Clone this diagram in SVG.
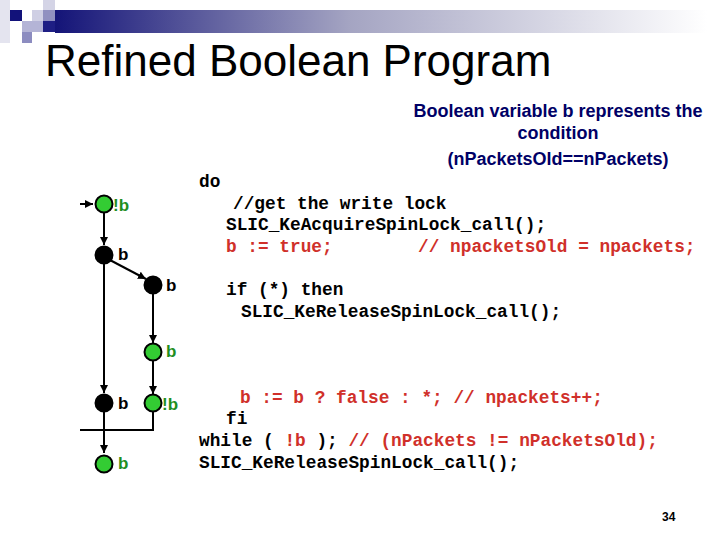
<svg xmlns="http://www.w3.org/2000/svg" width="720" height="540" viewBox="0 0 720 540">
<defs>
<linearGradient id="bar" x1="0" y1="0" x2="1" y2="0">
<stop offset="0" stop-color="#141478"/>
<stop offset="0.45" stop-color="#a4a4c2"/>
<stop offset="1" stop-color="#ffffff"/>
</linearGradient>
<marker id="ah" viewBox="0 0 10 10" refX="10" refY="5" markerWidth="8" markerHeight="8" markerUnits="userSpaceOnUse" orient="auto">
<path d="M0,0 L10,5 L0,10 z" fill="#000"/>
</marker>
<style>
.title{font-family:"Liberation Sans",Arial,sans-serif;font-size:44px;fill:#000}
.note{font-family:"Liberation Sans",Arial,sans-serif;font-size:18px;font-weight:bold;fill:#000066;text-anchor:middle}
.code{font-family:"Liberation Mono","Courier New",monospace;font-size:17.8px;font-weight:bold;fill:#000;white-space:pre}
.red{fill:#d0302a}
.lbl{font-family:"Liberation Sans",Arial,sans-serif;font-size:17px;font-weight:bold}
.lg{fill:#1f8f1f}
.lb{fill:#000}
.ng{fill:#33cc33;stroke:#000;stroke-width:2}
.nb{fill:#000;stroke:#000;stroke-width:2}
.edge{stroke:#000;stroke-width:2;fill:none}
.num{font-family:"Liberation Sans",Arial,sans-serif;font-size:12px;font-weight:bold;fill:#000}
</style>
</defs>
<rect width="720" height="540" fill="#fff"/>
<g id="decoration">
<rect x="0" y="0" width="10" height="43" fill="#e4e4ef"/>
<rect x="10" y="10" width="12" height="11" fill="#12127a"/>
<rect x="32" y="10" width="11" height="11" fill="#cfcfe4"/>
<rect x="43" y="0" width="12" height="10" fill="#d4d4e6"/>
<rect x="43" y="10" width="12" height="11" fill="#9090c0"/>
<rect x="22" y="21" width="21" height="11" fill="#b4b4d6"/>
<rect x="43" y="21" width="12" height="11" fill="#1e1e84"/>
<rect x="22" y="32" width="10" height="11" fill="#8c8cc0"/>
<rect x="55" y="10" width="652" height="23" fill="url(#bar)"/>
</g>
<text class="title" x="45" y="76">Refined Boolean Program</text>
<g id="note">
<text class="note" x="558" y="117">Boolean variable b represents the</text>
<text class="note" x="558" y="139">condition</text>
<text class="note" x="558" y="165">(nPacketsOld==nPackets)</text>
</g>
<g id="connectors">
<line class="edge" x1="80" y1="204" x2="93" y2="204" marker-end="url(#ah)"/>
<line class="edge" x1="104" y1="213" x2="104" y2="245" marker-end="url(#ah)"/>
<line class="edge" x1="108" y1="259" x2="146" y2="279" marker-end="url(#ah)"/>
<line class="edge" x1="104" y1="264" x2="104" y2="393" marker-end="url(#ah)"/>
<line class="edge" x1="153" y1="294" x2="153" y2="343" marker-end="url(#ah)"/>
<line class="edge" x1="153" y1="361" x2="153" y2="394" marker-end="url(#ah)"/>
<polyline class="edge" points="153,412 153,430 80,430"/>
<line class="edge" x1="104" y1="412" x2="104" y2="453" marker-end="url(#ah)"/>
</g>
<g id="n1"><circle class="ng" cx="104" cy="204" r="8.5"/><text class="lbl lg" x="113" y="211">!b</text></g>
<g id="n2"><circle class="nb" cx="104" cy="255" r="8.5"/><text class="lbl lb" x="118" y="260">b</text></g>
<g id="n3"><circle class="nb" cx="153" cy="285" r="8.5"/><text class="lbl lb" x="166" y="291">b</text></g>
<g id="n4"><circle class="ng" cx="153" cy="352" r="8.5"/><text class="lbl lg" x="166" y="357">b</text></g>
<g id="n5"><circle class="ng" cx="153" cy="403" r="8.5"/><text class="lbl lg" x="162" y="410">!b</text></g>
<g id="n6"><circle class="nb" cx="104" cy="403" r="8.5"/><text class="lbl lb" x="118" y="409">b</text></g>
<g id="n7"><circle class="ng" cx="104" cy="464" r="8.5"/><text class="lbl lg" x="118" y="469">b</text></g>
<g id="code">
<text class="code" x="199" y="187">do</text>
<text class="code" x="233" y="209">//get the write lock</text>
<text class="code" x="226" y="230">SLIC_KeAcquireSpinLock_call();</text>
<text class="code red" x="226" y="252">b := true;        // npacketsOld = npackets;</text>
<text class="code" x="226" y="295">if (*) then</text>
<text class="code" x="241" y="317">SLIC_KeReleaseSpinLock_call();</text>
<text class="code red" x="240" y="403">b := b ? false : *; // npackets++;</text>
<text class="code" x="226" y="424">fi</text>
<text class="code" x="199" y="446">while ( <tspan class="red">!b</tspan> ); <tspan class="red">// (nPackets != nPacketsOld);</tspan></text>
<text class="code" x="199" y="468">SLIC_KeReleaseSpinLock_call();</text>
</g>
<text class="num" x="662" y="521">34</text>
</svg>
